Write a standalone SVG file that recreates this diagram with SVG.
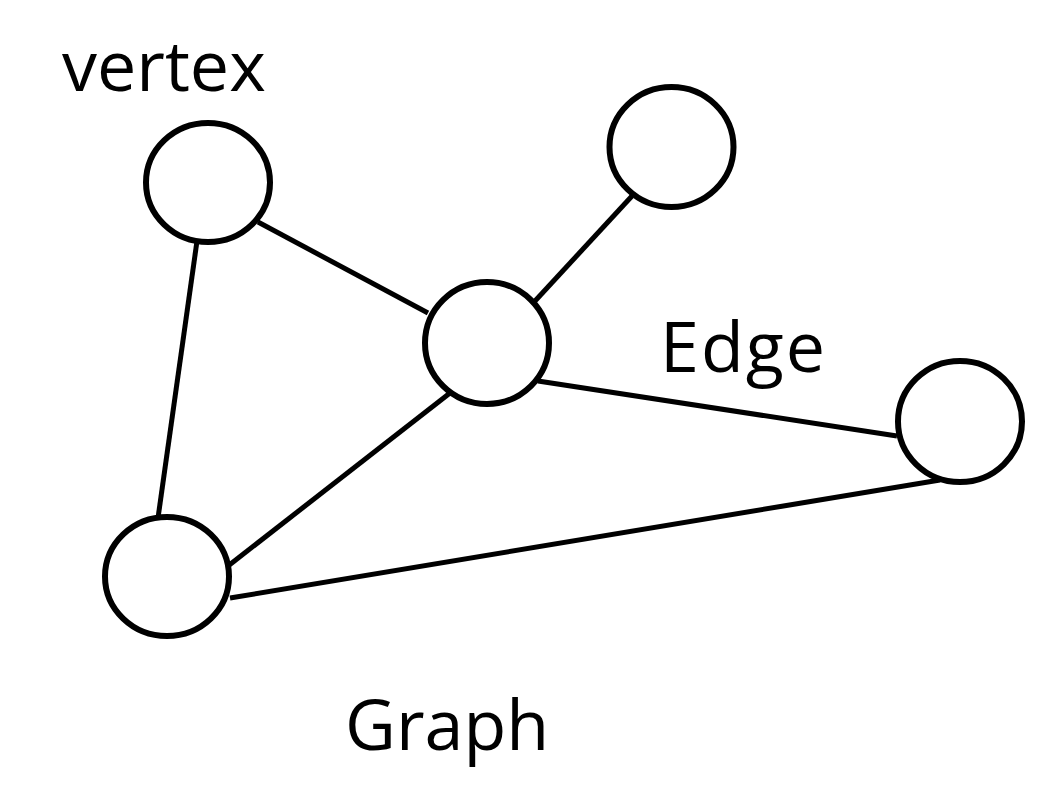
<svg xmlns="http://www.w3.org/2000/svg" width="1058" height="787" viewBox="0 0 1058 787">
<style>
.n{fill:#fff;stroke:#000;stroke-width:6}
.e{stroke:#000;stroke-width:5;fill:none}
.t{font-family:"Open Sans","Noto Sans",sans-serif;font-size:70px;fill:#000}
</style>
<rect width="1058" height="787" fill="#fff"/>
<g id="edges">
<line class="e" x1="197" y1="241" x2="158" y2="518"/>
<line class="e" x1="258" y1="222" x2="428" y2="313"/>
<line class="e" x1="632" y1="196" x2="535" y2="301"/>
<line class="e" x1="538" y1="381" x2="897" y2="436"/>
<line class="e" x1="450" y1="393" x2="228" y2="566"/>
<line class="e" x1="230" y1="598" x2="940" y2="480"/>
</g>
<g id="v1"><ellipse class="n" cx="208" cy="182.5" rx="62" ry="59.5"/></g>
<g id="v2"><ellipse class="n" cx="671.5" cy="147" rx="62" ry="60"/></g>
<g id="v3"><ellipse class="n" cx="487" cy="343" rx="62" ry="61"/></g>
<g id="v4"><ellipse class="n" cx="960" cy="421.5" rx="62" ry="60.5"/></g>
<g id="v5"><ellipse class="n" cx="167" cy="576.5" rx="62" ry="59.5"/></g>
<g id="labels">
<text class="t" x="62" y="91">vertex</text>
<text class="t" x="660" y="372" letter-spacing="2">Edge</text>
<text class="t" x="345" y="750">Graph</text>
</g>
</svg>
